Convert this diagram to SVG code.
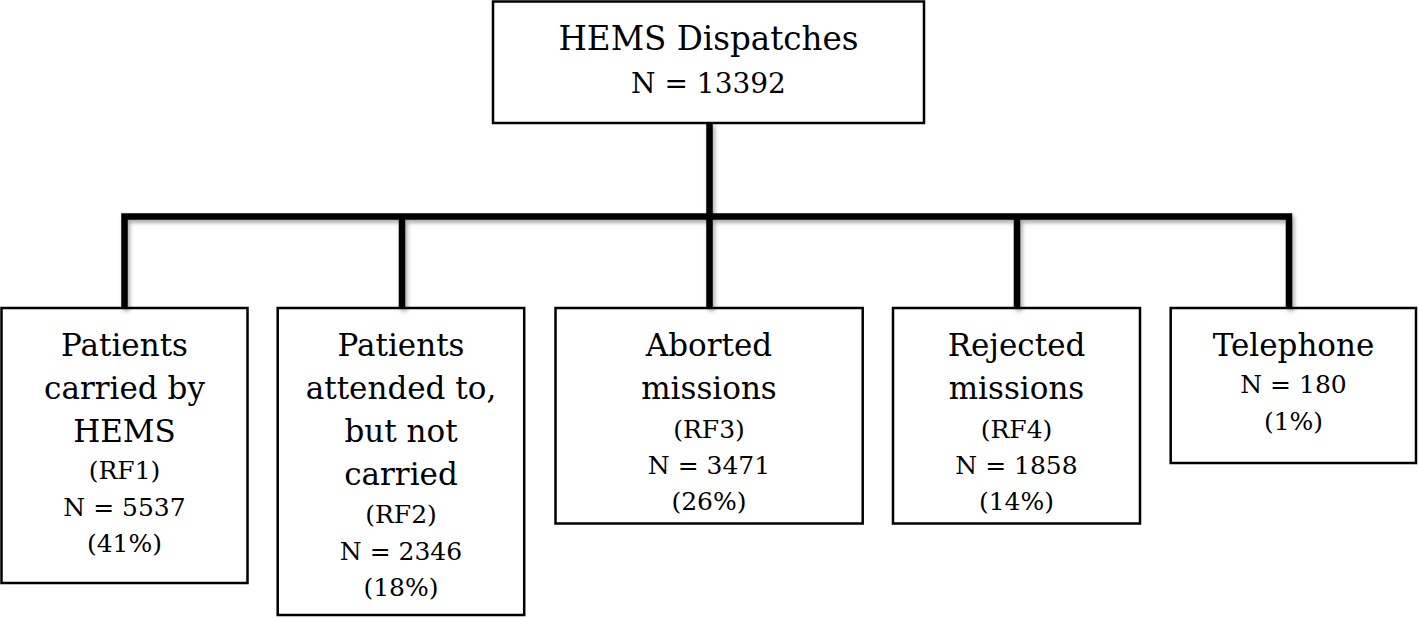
<svg xmlns="http://www.w3.org/2000/svg" width="1418" height="618" viewBox="0 0 1418 618">
  <defs>
    <filter id="shadow" x="-5%" y="-5%" width="110%" height="120%">
      <feDropShadow dx="2" dy="3" stdDeviation="2" flood-color="#000" flood-opacity="0.35"/>
    </filter>
    <style>
      .box { fill: #ffffff; stroke: #000000; stroke-width: 2.5; }
      .conn { fill: none; stroke: #000000; stroke-width: 6.5; stroke-linejoin: miter; stroke-linecap: butt; }
      text { font-family: "DejaVu Serif", "Liberation Serif", serif; fill: #000000; text-anchor: middle; }
      .title { font-size: 32.6px; }
      .big { font-size: 31px; }
      .small { font-size: 25px; }
      .topn { font-size: 28px; }
    </style>
  </defs>
  <rect width="1418" height="618" fill="#ffffff"/>

  <g id="node-root">
    <rect class="box" x="493" y="1.5" width="431" height="121.5"/>
    <text class="title" x="708.5" y="50">HEMS Dispatches</text>
    <text class="topn" x="708.5" y="93">N = 13392</text>
  </g>

  <g id="node-rf1">
    <rect class="box" x="1.5" y="308" width="246" height="275"/>
    <text class="big" x="124.5" y="356">Patients</text>
    <text class="big" x="124.5" y="399">carried by</text>
    <text class="big" x="124.5" y="442">HEMS</text>
    <text class="small" x="124.5" y="479">(RF1)</text>
    <text class="small" x="124.5" y="516">N = 5537</text>
    <text class="small" x="124.5" y="552">(41%)</text>
  </g>

  <g id="node-rf2">
    <rect class="box" x="277.7" y="308" width="246.5" height="307"/>
    <text class="big" x="401" y="356">Patients</text>
    <text class="big" x="401" y="399">attended to,</text>
    <text class="big" x="401" y="442">but not</text>
    <text class="big" x="401" y="485">carried</text>
    <text class="small" x="401" y="523">(RF2)</text>
    <text class="small" x="401" y="560">N = 2346</text>
    <text class="small" x="401" y="596">(18%)</text>
  </g>

  <g id="node-rf3">
    <rect class="box" x="555.5" y="308" width="307.2" height="215.5"/>
    <text class="big" x="709" y="356">Aborted</text>
    <text class="big" x="709" y="399">missions</text>
    <text class="small" x="709" y="438">(RF3)</text>
    <text class="small" x="709" y="474">N = 3471</text>
    <text class="small" x="709" y="510">(26%)</text>
  </g>

  <g id="node-rf4">
    <rect class="box" x="893" y="308" width="247" height="215.5"/>
    <text class="big" x="1016.5" y="356">Rejected</text>
    <text class="big" x="1016.5" y="399">missions</text>
    <text class="small" x="1016.5" y="438">(RF4)</text>
    <text class="small" x="1016.5" y="474">N = 1858</text>
    <text class="small" x="1016.5" y="510">(14%)</text>
  </g>

  <g id="node-telephone">
    <rect class="box" x="1170.7" y="308" width="245.3" height="155"/>
    <text class="big" x="1293.5" y="356">Telephone</text>
    <text class="small" x="1293.5" y="393">N = 180</text>
    <text class="small" x="1293.5" y="430">(1%)</text>
  </g>

  <g id="connectors" filter="url(#shadow)">
    <path class="conn" d="M124.5 308 V216.5 H1289 V308"/>
    <line class="conn" x1="709.5" y1="123" x2="709.5" y2="308"/>
    <line class="conn" x1="402" y1="216.5" x2="402" y2="308"/>
    <line class="conn" x1="1017" y1="216.5" x2="1017" y2="308"/>
  </g>
</svg>
